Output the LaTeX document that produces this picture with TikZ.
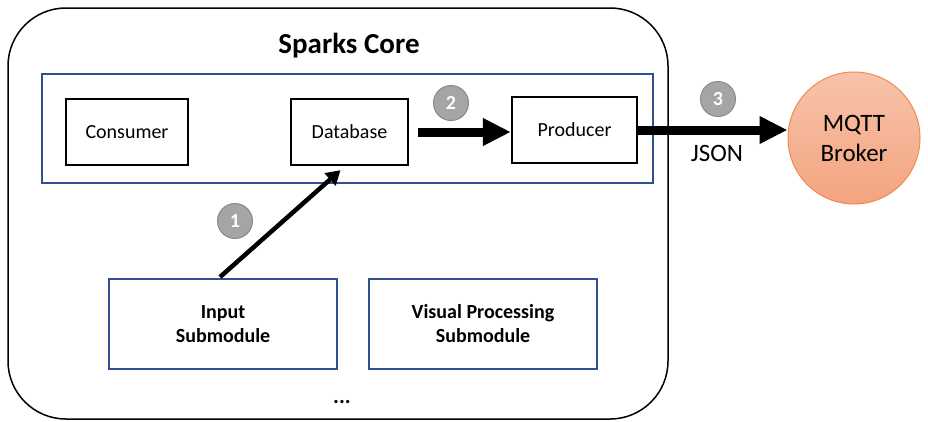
\documentclass[tikz,border=0pt]{standalone}
\usepackage{fontspec}
\setmainfont{Carlito}
\usetikzlibrary{arrows.meta,calc}
\definecolor{boxblue}{HTML}{2F528F}
\definecolor{stepfill}{HTML}{A5A5A5}
\definecolor{stepline}{HTML}{8A8A8A}
\definecolor{brokertop}{HTML}{F7C3AA}
\definecolor{brokerbot}{HTML}{F4A47F}
\definecolor{brokerline}{HTML}{EE8A52}
\tikzset{
  blackbox/.style={draw=black, line width=2.4pt, fill=white, font=\fontsize{20}{24}\selectfont, inner sep=0pt},
  bluebox/.style={draw=boxblue, line width=2pt, fill=white, font=\bfseries\fontsize{20}{24}\selectfont, align=center, inner sep=0pt},
  stepnum/.style={circle, draw=stepline, line width=1pt, fill=stepfill, minimum size=35pt, inner sep=0pt, text=white, font=\bfseries\fontsize{20}{20}\selectfont},
  bigarrow/.style={line width=9pt, -{Triangle[length=28pt,width=26pt]}},
  thinarrow/.style={line width=4.5pt, -{Triangle[length=14pt,width=16pt]}},
}
\begin{document}
\begin{tikzpicture}[x=1pt,y=-1pt]
\useasboundingbox (0,0) rectangle (928,421);
% Sparks Core container
\draw[line width=1.5pt, rounded corners=58pt] (8,8) rectangle (668,419);
\node[font=\bfseries\fontsize{29}{30}\selectfont] (title) at (349,46) {Sparks Core};
% messaging group
\draw[draw=boxblue, line width=2pt] (42,74) rectangle (653,183);
\node[blackbox, minimum width=122pt, minimum height=66pt] (cons) at (127,132) {Consumer};
\node[blackbox, minimum width=117pt, minimum height=66pt] (db) at (349.5,132) {Database};
\node[blackbox, minimum width=125pt, minimum height=66pt] (prod) at (574.5,130) {Producer};
% submodules
\node[bluebox, minimum width=228pt, minimum height=90pt] (inp) at (223,324) {Input\\Submodule};
\node[bluebox, minimum width=228pt, minimum height=90pt] (vis) at (483,324) {Visual Processing\\Submodule};
\node[font=\bfseries\fontsize{22}{22}\selectfont] (dots) at (342,402) {...};
% broker
\node[circle, draw=brokerline, line width=1pt, top color=brokertop, bottom color=brokerbot,
      minimum size=132pt, inner sep=0pt, align=center, font=\fontsize{25}{30}\selectfont] (broker) at (854,138) {MQTT\\Broker};
% data flow
\coordinate (inpout) at (220,277);
\draw[thinarrow] (inpout) -- ([xshift=-9pt,yshift=-4pt]db.south);
\draw[bigarrow] ([xshift=9pt]db.east) -- (prod.west |- db.east);
\draw[bigarrow] (prod.east) -- (prod.east -| broker.west);
\node[font=\fontsize{25}{25}\selectfont] (json) at (717,153) {JSON};
% step markers
\node[stepnum] (s1) at (235,221) {1};
\node[stepnum] (s2) at (451,103) {2};
\node[stepnum] (s3) at (718,99) {3};
\end{tikzpicture}
\end{document}
